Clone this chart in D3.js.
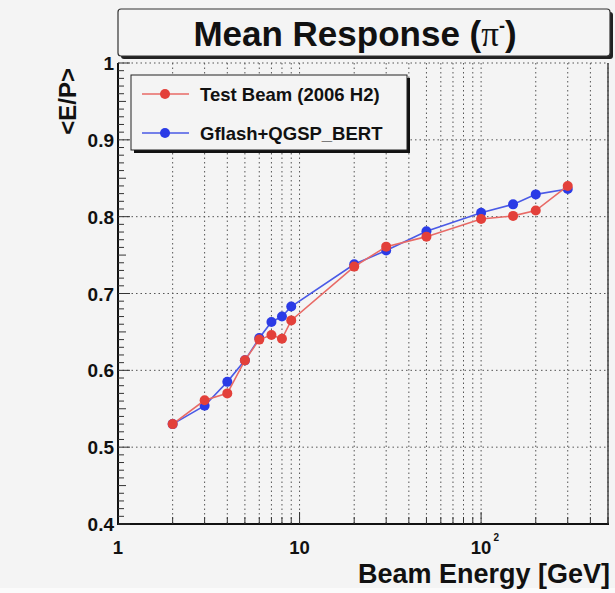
<!DOCTYPE html>
<html>
<head>
<meta charset="utf-8">
<script src="https://cdn.jsdelivr.net/npm/d3@7"></script>
<style>
  html, body { margin: 0; padding: 0; background: #f4f4f4; }
  svg { display: block; }
  text { font-family: "Liberation Sans", Arial, Helvetica, sans-serif; font-weight: bold; fill: #111; }
</style>
</head>
<body>
<svg id="chart" width="615" height="593"></svg>
<script>
// ---- data ----
const energies = [2, 3, 4, 5, 6, 7, 8, 9, 20, 30, 50, 100, 150, 200, 300];
const testBeam = [0.530, 0.561, 0.570, 0.613, 0.640, 0.646, 0.641, 0.665, 0.735, 0.761, 0.774, 0.797, 0.801, 0.808, 0.840];
const gflash   = [0.530, 0.554, 0.585, 0.613, 0.642, 0.663, 0.670, 0.683, 0.738, 0.756, 0.781, 0.805, 0.816, 0.829, 0.836];
const seriesNames = ["Test Beam (2006 H2)", "Gflash+QGSP_BERT"];
const yTicks = [0.4, 0.5, 0.6, 0.7, 0.8, 0.9, 1.0];
const yTickLabels = ["0.4", "0.5", "0.6", "0.7", "0.8", "0.9", "1"];
const xMajorTicks = [1, 10, 100];
const xTickLabels = ["1", "10", "10"];
const xTickExponents = ["", "", "2"];
const xDomain = [1, 500];
const yDomain = [0.4, 1.0];

const svg = d3.select("#chart");
const W = 615, H = 593;
const L = 118, R = 608, T = 63, B = 524;

svg.append("rect").attr("width", W).attr("height", H).attr("fill", "#f4f4f4");
svg.append("rect").attr("x", 0).attr("y", 588).attr("width", W).attr("height", 5).attr("fill", "#fbfbfb");

const x = d3.scaleLog().domain(xDomain).range([L, R]);
const y = d3.scaleLinear().domain(yDomain).range([B, T]);

const red = "#e3403a", redLine = "#e86a66";
const blue = "#2b3be6", blueLine = "#4a5ae6";

// ---- grid ----
const xMinor = [];
for (let dec = 1; dec <= 100; dec *= 10) {
  for (let k = 1; k <= 9; k++) {
    const v = k * dec;
    if (v > xDomain[0] && v <= xDomain[1]) xMinor.push(v);
  }
}
const grid = svg.append("g");
grid.selectAll("line.vg").data(xMinor).join("line")
  .attr("x1", d => x(d)).attr("x2", d => x(d))
  .attr("y1", T).attr("y2", B)
  .attr("stroke", "#555").attr("stroke-width", 1)
  .attr("stroke-dasharray", "1.5,3");
grid.selectAll("line.hg").data(yTicks.filter(d => d > yDomain[0])).join("line")
  .attr("x1", L).attr("x2", R)
  .attr("y1", d => y(d)).attr("y2", d => y(d))
  .attr("stroke", "#555").attr("stroke-width", 1)
  .attr("stroke-dasharray", "1.5,3");

// ---- frame ----
svg.append("line").attr("x1", R).attr("x2", R).attr("y1", T).attr("y2", B)
  .attr("stroke", "#444").attr("stroke-width", 1.5);
svg.append("line").attr("x1", L).attr("x2", L).attr("y1", T).attr("y2", B + 1)
  .attr("stroke", "#111").attr("stroke-width", 2);
svg.append("line").attr("x1", L - 1).attr("x2", R + 1).attr("y1", B).attr("y2", B)
  .attr("stroke", "#111").attr("stroke-width", 2);

// ---- y axis ticks ----
const yMinorTicks = d3.range(0, 61).map(i => +(0.4 + i * 0.01).toFixed(2));
svg.append("g").selectAll("line").data(yMinorTicks).join("line")
  .attr("x1", L).attr("x2", d => L + (Math.abs(d * 10 - Math.round(d * 10)) < 1e-6 ? 12 : (Math.abs(d * 20 - Math.round(d * 20)) < 1e-6 ? 8 : 6)))
  .attr("y1", d => y(d)).attr("y2", d => y(d))
  .attr("stroke", "#333").attr("stroke-width", 1);

svg.append("g").selectAll("text").data(yTicks).join("text")
  .attr("x", 114).attr("y", d => y(d) + 7)
  .attr("text-anchor", "end").attr("font-size", 19)
  .text((d, i) => yTickLabels[i]);

// ---- x axis ticks ----
svg.append("g").selectAll("line").data(xMinor).join("line")
  .attr("x1", d => x(d)).attr("x2", d => x(d))
  .attr("y1", B).attr("y2", d => B - (xMajorTicks.includes(d) ? 12 : 7))
  .attr("stroke", "#333").attr("stroke-width", 1);

const xl = svg.append("g");
xMajorTicks.forEach((v, i) => {
  xl.append("text").attr("x", x(v)).attr("y", 554)
    .attr("text-anchor", "middle").attr("font-size", 18.5)
    .text(xTickLabels[i]);
  if (xTickExponents[i]) {
    xl.append("text").attr("x", x(v) + 12.5).attr("y", 541)
      .attr("text-anchor", "start").attr("font-size", 10)
      .text(xTickExponents[i]);
  }
});

// ---- axis titles ----
svg.append("text").attr("x", R + 2).attr("y", 583)
  .attr("text-anchor", "end").attr("font-size", 27)
  .text("Beam Energy [GeV]");
svg.append("text")
  .attr("transform", "translate(76,68) rotate(-90)")
  .attr("text-anchor", "end").attr("font-size", 24)
  .text("<E/P>");

// ---- title ----
svg.append("rect").attr("x", 121).attr("y", 12).attr("width", 492).attr("height", 47)
  .attr("fill", "#222").attr("rx", 3);
svg.append("rect").attr("x", 118).attr("y", 9).attr("width", 492).attr("height", 47)
  .attr("fill", "#f4f4f4").attr("stroke", "#333").attr("stroke-width", 1.2).attr("rx", 3);
const title = svg.append("text").attr("x", 355).attr("y", 46)
  .attr("text-anchor", "middle").attr("font-size", 35);
title.append("tspan").text("Mean Response (");
title.append("tspan").attr("font-family", "'Liberation Serif', 'Times New Roman', serif").attr("font-weight", "normal").text("π");
title.append("tspan").attr("dy", -14).attr("font-size", 18).text("-");
title.append("tspan").attr("dy", 14).text(")");

// ---- series ----
const line = d3.line().x(d => x(d[0])).y(d => y(d[1]));
const series = [
  { name: seriesNames[1], vals: gflash, c: blue, lc: blueLine },
  { name: seriesNames[0], vals: testBeam, c: red, lc: redLine }
];
series.forEach(s => {
  const pts = energies.map((e, i) => [e, s.vals[i]]);
  svg.append("path").datum(pts).attr("d", line)
    .attr("fill", "none").attr("stroke", s.lc).attr("stroke-width", 1.6);
  svg.append("g").selectAll("circle").data(pts).join("circle")
    .attr("cx", d => x(d[0])).attr("cy", d => y(d[1])).attr("r", 5)
    .attr("fill", s.c);
});

// ---- legend ----
const lg = svg.append("g");
lg.append("rect").attr("x", 134).attr("y", 78).attr("width", 276).attr("height", 75).attr("fill", "#111");
lg.append("rect").attr("x", 131).attr("y", 75).attr("width", 276).attr("height", 75)
  .attr("fill", "#f4f4f4").attr("stroke", "#222").attr("stroke-width", 1);
const legendItems = [
  { name: seriesNames[0], c: red, lc: redLine, yy: 94 },
  { name: seriesNames[1], c: blue, lc: blueLine, yy: 133 }
];
legendItems.forEach(it => {
  lg.append("line").attr("x1", 142).attr("x2", 189).attr("y1", it.yy).attr("y2", it.yy)
    .attr("stroke", it.lc).attr("stroke-width", 1.6);
  lg.append("circle").attr("cx", 165).attr("cy", it.yy).attr("r", 5).attr("fill", it.c);
  lg.append("text").attr("x", 200).attr("y", it.yy + 6.5).attr("font-size", 18.5)
    .attr("fill", "#222").text(it.name);
});
</script>
</body>
</html>
